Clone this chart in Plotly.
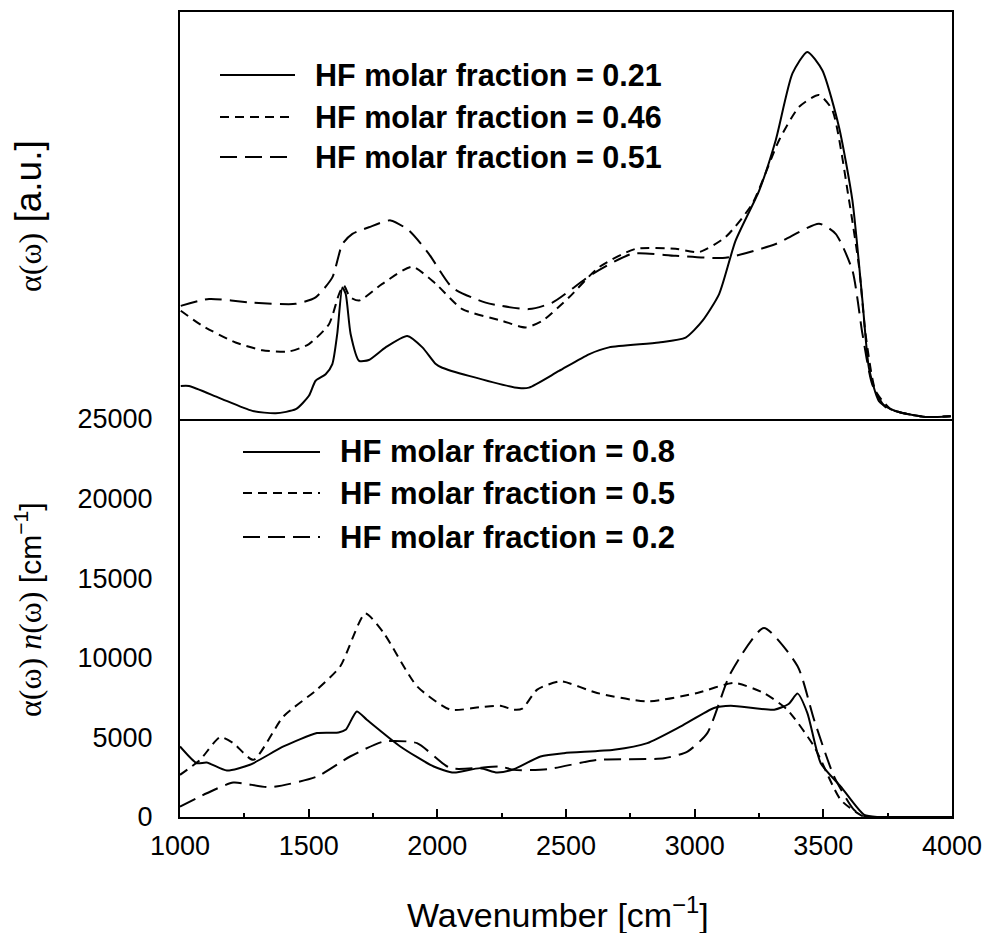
import plotly.graph_objects as go

# ---- upper panel: absorption alpha(omega), arbitrary units ----
x_021 = [1003, 1035, 1152, 1281, 1372, 1450, 1501, 1527, 1566, 1592, 1611, 1631, 1644, 1663, 1696,
         1734, 1799, 1883, 1942, 1994, 2019, 2123, 2317, 2356, 2473, 2589, 2667, 2861, 2965, 3030,
         3095, 3159, 3251, 3315, 3380, 3438, 3496, 3561, 3613, 3652, 3677, 3716, 3760, 3800, 3898, 3995]
y_021 = [8.1, 8.1, 5.2, 2.0, 1.4, 2.4, 5.7, 9.4, 11.0, 13.5, 20.9, 32.3, 30.7, 20.9, 14.3,
         14.5, 17.6, 20.4, 17.6, 13.5, 12.6, 10.6, 7.6, 7.7, 11.8, 15.9, 17.6, 18.8, 20.0, 24.1,
         30.7, 43.8, 56.2, 68.5, 84.9, 90.2, 85.7, 71.7, 53.7, 29.1, 12.6, 4.4, 2.5, 1.6, 0.5, 0.7]

x_046 = [1003, 1087, 1216, 1320, 1424, 1501, 1579, 1618, 1637, 1660, 1696, 1786, 1902, 1994, 2097,
         2253, 2343, 2408, 2512, 2628, 2771, 2926, 3017, 3120, 3224, 3328, 3406, 3483, 3535, 3600,
         3639, 3664, 3703, 3760, 3800, 3898, 3995]
y_046 = [26.6, 22.9, 18.8, 16.9, 16.6, 18.4, 23.3, 30.7, 32.8, 30.0, 29.1, 33.2, 37.4, 33.2, 27.0,
         24.1, 22.5, 24.1, 29.9, 37.3, 41.8, 41.8, 41.0, 44.7, 52.9, 68.5, 76.7, 79.6, 75.9, 53.7,
         37.3, 20.9, 6.9, 2.5, 1.6, 0.5, 0.7]

x_051 = [1003, 1113, 1281, 1450, 1527, 1592, 1631, 1670, 1734, 1818, 1890, 1967, 2058, 2188, 2356,
         2447, 2602, 2758, 2926, 3120, 3315, 3483, 3548, 3613, 3652, 3690, 3740, 3800, 3898, 3995]
y_051 = [27.8, 29.5, 28.6, 28.3, 29.9, 34.8, 43.0, 45.5, 47.1, 48.8, 46.3, 40.6, 32.3, 28.6, 27.0,
         28.6, 35.6, 40.6, 40.1, 39.6, 43.0, 48.0, 45.5, 36.5, 20.9, 8.5, 3.0, 1.6, 0.5, 0.7]

# ---- lower panel: alpha(omega) n(omega) in cm^-1 ----
x_08 = [1000, 1065, 1104, 1182, 1272, 1402, 1532, 1616, 1645, 1687, 1726, 1856, 1986, 2064, 2167,
        2232, 2297, 2401, 2492, 2686, 2816, 2946, 3075, 3140, 3309, 3365, 3400, 3438, 3490, 3568,
        3659, 3716, 3800, 4000]
y_08 = [4430, 3380, 3420, 2920, 3280, 4430, 5270, 5310, 5500, 6630, 6110, 4430, 3170, 2790, 3070,
        2790, 3000, 3800, 4010, 4220, 4640, 5690, 6850, 6990, 6740, 7100, 7750, 6530, 3380, 1910,
        130, 0, 0, 0]

x_05 = [1000, 1078, 1156, 1207, 1285, 1402, 1532, 1623, 1720, 1791, 1921, 2051, 2167, 2245, 2297,
        2330, 2388, 2479, 2621, 2816, 3010, 3153, 3269, 3360, 3464, 3568, 3660, 3720, 4000]
y_05 = [2650, 3590, 5020, 4640, 3590, 6320, 8000, 9470, 12780, 11570, 8210, 6740, 6900, 6990, 6740,
        6800, 8000, 8520, 7790, 7260, 7790, 8420, 7790, 6740, 4430, 1070, 0, 0, 0]

x_02 = [1000, 1104, 1207, 1350, 1532, 1661, 1791, 1921, 2051, 2245, 2297, 2427, 2621, 2881, 2972,
        3049, 3140, 3269, 3400, 3464, 3542, 3620, 3670, 4000]
y_02 = [650, 1490, 2160, 1870, 2540, 3800, 4740, 4640, 3070, 3170, 2960, 3000, 3590, 3690, 4110,
        5270, 9050, 11870, 9470, 6110, 2540, 440, 0, 0]

x_ticks = [1000, 1500, 2000, 2500, 3000, 3500, 4000]
x_tick_text = ["1000", "1500", "2000", "2500", "3000", "3500", "4000"]
y_ticks = [0, 5000, 10000, 15000, 20000, 25000]
y_tick_text = ["0", "5000", "10000", "15000", "20000", "25000"]

top_labels = ["HF molar fraction = 0.21", "HF molar fraction = 0.46", "HF molar fraction = 0.51"]
bottom_labels = ["HF molar fraction = 0.8", "HF molar fraction = 0.5", "HF molar fraction = 0.2"]

SOLID = "solid"
SHORT = "9px,6px"
LONG = "17px,8px"

W, H = 984, 933
PL, PR, PT, PB = 180, 952, 12, 817   # plot area in pixels


def fx(px):
    return (px - PL) / (PR - PL)


def fy(py):
    return (PB - py) / (PB - PT)


fig = go.Figure()

line_kw = dict(color="black", width=2)
for xs, ys, dash, name in [(x_021, y_021, SOLID, top_labels[0]),
                           (x_046, y_046, SHORT, top_labels[1]),
                           (x_051, y_051, LONG, top_labels[2])]:
    fig.add_trace(go.Scatter(x=xs, y=ys, mode="lines", name=name, xaxis="x2", yaxis="y2",
                             line=dict(dash=dash, shape="spline", smoothing=0.6, **line_kw),
                             showlegend=False))

for xs, ys, dash, name in [(x_08, y_08, SOLID, bottom_labels[0]),
                           (x_05, y_05, SHORT, bottom_labels[1]),
                           (x_02, y_02, LONG, bottom_labels[2])]:
    fig.add_trace(go.Scatter(x=xs, y=ys, mode="lines", name=name, xaxis="x", yaxis="y",
                             line=dict(dash=dash, shape="spline", smoothing=0.6, **line_kw),
                             showlegend=False))

split = fy(419)
tick_font = dict(family="Liberation Sans", size=27, color="black")
base = dict(showline=True, linecolor="black", linewidth=2, showgrid=False,
            zeroline=False, automargin=False)

fig.update_layout(
    width=W, height=H,
    margin=dict(l=PL, r=W - PR, t=PT, b=H - PB),
    plot_bgcolor="white", paper_bgcolor="white",
    showlegend=False,
    xaxis=dict(domain=[0, 1], anchor="y", range=[1000, 4000],
               tickvals=x_ticks, ticktext=x_tick_text,
               ticks="inside", ticklen=8, tickwidth=1.5, tickcolor="black",
               minor=dict(ticks="inside", dtick=250, ticklen=4, tickwidth=1.5, tickcolor="black"),
               tickfont=tick_font, ticklabelstandoff=4, mirror=False, **base),
    yaxis=dict(domain=[0, split], anchor="x", range=[0, 25000],
               tickvals=y_ticks, ticktext=y_tick_text,
               ticks="", tickfont=tick_font, ticklabelstandoff=20, mirror=True, **base),
    xaxis2=dict(domain=[0, 1], anchor="y2", range=[1000, 4000], showticklabels=False,
                ticks="", mirror=True, **base),
    yaxis2=dict(domain=[split, 1], anchor="x2", range=[0, 100], showticklabels=False,
                ticks="", mirror=True, **base),
)

# legend samples and labels drawn in paper coordinates
shapes, annos = [], []
for rows, (lx0, lx1, tx), fsize in [
    (list(zip([75, 117, 157], [SOLID, SHORT, LONG], top_labels)), (220, 295, 313), 30.5),
    (list(zip([452, 493, 537], [SOLID, SHORT, LONG], bottom_labels)), (243, 320, 338), 31),
]:
    for py, dash, label in rows:
        shapes.append(dict(type="line", xref="paper", yref="paper",
                           x0=fx(lx0), x1=fx(lx1), y0=fy(py), y1=fy(py),
                           line=dict(color="black", width=2, dash=dash)))
        annos.append(dict(xref="paper", yref="paper", x=fx(tx), y=fy(py),
                          xanchor="left", yanchor="middle", showarrow=False,
                          text="<b>%s</b>" % label,
                          font=dict(family="Liberation Sans", size=fsize, color="black")))

serif = '<span style="font-family:Liberation Serif;font-size:32px">'
annos.append(dict(xref="paper", yref="paper", x=fx(28), y=fy(216), textangle=-90,
                  xanchor="center", yanchor="middle", showarrow=False,
                  text=serif + "α(ω)</span> [a.u.]",
                  font=dict(family="Liberation Sans", size=37, color="black")))
annos.append(dict(xref="paper", yref="paper", x=fx(28), y=fy(610), textangle=-90,
                  xanchor="center", yanchor="middle", showarrow=False,
                  text=serif + "α(ω) <i>n</i>(ω)</span> [cm<sup>−1</sup>]",
                  font=dict(family="Liberation Sans", size=30, color="black")))
annos.append(dict(xref="paper", yref="paper", x=fx(558), y=fy(913),
                  xanchor="center", yanchor="middle", showarrow=False,
                  text="Wavenumber [cm<sup>−1</sup>]",
                  font=dict(family="Liberation Sans", size=34, color="black")))

fig.update_layout(shapes=shapes, annotations=annos)

fig.write_html("out.html")
